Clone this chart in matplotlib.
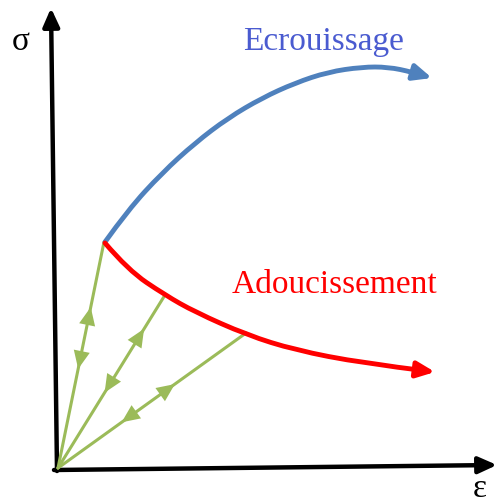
import numpy as np
import matplotlib
matplotlib.use("Agg")
import matplotlib.pyplot as plt
from matplotlib.path import Path
from matplotlib.patches import FancyArrowPatch

# --- data (pixel-like units: x right, y down) ---
origin = (58, 468)
blue_x = [105, 128, 162, 195, 228, 262, 295, 328, 362, 388, 412, 432]
blue_y = [242, 210, 173, 143, 118, 98, 83, 72, 67, 67, 72, 78]
red_x = [105, 128, 165, 195, 247, 295, 362, 435]
red_y = [243, 270, 295, 312, 335, 350, 363, 372]
green_end_x = [104, 165, 246]
green_end_y = [242, 295, 333]
# fractions along each unloading line for up / down arrow marks
up_frac = [0.69, 0.78, 0.60]
down_frac = [0.46, 0.46, 0.36]
label_hard = "Ecrouissage"
label_soft = "Adoucissement"
label_y = "σ"
label_x = "ε"

W, H = 495, 504
fig = plt.figure(figsize=(W / 100, H / 100), dpi=100)
ax = fig.add_axes([0, 0, 1, 1])
ax.set_xlim(0, W)
ax.set_ylim(H, 0)
ax.axis("off")

def smooth_path(xs, ys):
    pts = list(zip(xs, ys))
    verts = [pts[0]]
    codes = [Path.MOVETO]
    for i in range(1, len(pts) - 1):
        mid = ((pts[i][0] + pts[i + 1][0]) / 2, (pts[i][1] + pts[i + 1][1]) / 2)
        if i == len(pts) - 2:
            mid = pts[-1]
        verts += [pts[i], mid]
        codes += [Path.CURVE3, Path.CURVE3]
    return Path(verts, codes)

BLUE = "#4F81BD"
RED = "#FF0000"
GREEN = "#9BBB59"

# axes arrows
ax.add_patch(FancyArrowPatch((57, 471), (51, 8), arrowstyle="-|>,head_length=1.0,head_width=0.45",
                             mutation_scale=11, lw=3.2, color="black", shrinkA=0, shrinkB=0))
ax.add_patch(FancyArrowPatch((54, 470), (497, 465), arrowstyle="-|>,head_length=1.0,head_width=0.45",
                             mutation_scale=11, lw=3.2, color="black", shrinkA=0, shrinkB=0))

# green unloading lines
for ex, ey, uf, dfr in zip(green_end_x, green_end_y, up_frac, down_frac):
    ax.plot([origin[0], ex], [origin[1], ey], color=GREEN, lw=2.2, solid_capstyle="round", zorder=2)
    dx, dy = ex - origin[0], ey - origin[1]
    L = np.hypot(dx, dy)
    ux, uy = dx / L, dy / L
    px, py = origin[0] + uf * dx, origin[1] + uf * dy
    ax.add_patch(FancyArrowPatch((px - 8 * ux, py - 8 * uy), (px + 5 * ux, py + 5 * uy),
                                 arrowstyle="-|>,head_length=1.0,head_width=0.45", mutation_scale=13,
                                 lw=0, color=GREEN, shrinkA=0, shrinkB=0, zorder=3))
    px, py = origin[0] + dfr * dx, origin[1] + dfr * dy
    ax.add_patch(FancyArrowPatch((px + 8 * ux, py + 8 * uy), (px - 5 * ux, py - 5 * uy),
                                 arrowstyle="-|>,head_length=1.0,head_width=0.45", mutation_scale=13,
                                 lw=0, color=GREEN, shrinkA=0, shrinkB=0, zorder=3))

# curves
ax.add_patch(FancyArrowPatch(path=smooth_path(blue_x, blue_y),
                             arrowstyle="-|>,head_length=0.9,head_width=0.4", mutation_scale=12,
                             lw=3.5, color=BLUE, shrinkA=0, shrinkB=0, zorder=4))
ax.add_patch(FancyArrowPatch(path=smooth_path(red_x, red_y),
                             arrowstyle="-|>,head_length=0.9,head_width=0.4", mutation_scale=12,
                             lw=3.5, color=RED, shrinkA=0, shrinkB=0, zorder=4))

serif = ["Liberation Serif", "DejaVu Serif"]
ax.text(323, 50, label_hard, color="#4a5bd0", fontsize=24, family=serif, ha="center", va="baseline")
ax.text(335, 293, label_soft, color=RED, fontsize=24, family=serif, ha="center", va="baseline")
ax.text(21, 50, label_y, color="black", fontsize=24, family=serif, ha="center", va="baseline")
ax.text(480, 497, label_x, color="black", fontsize=24, family=serif, ha="center", va="baseline")

fig.savefig("out.png", dpi=100)
